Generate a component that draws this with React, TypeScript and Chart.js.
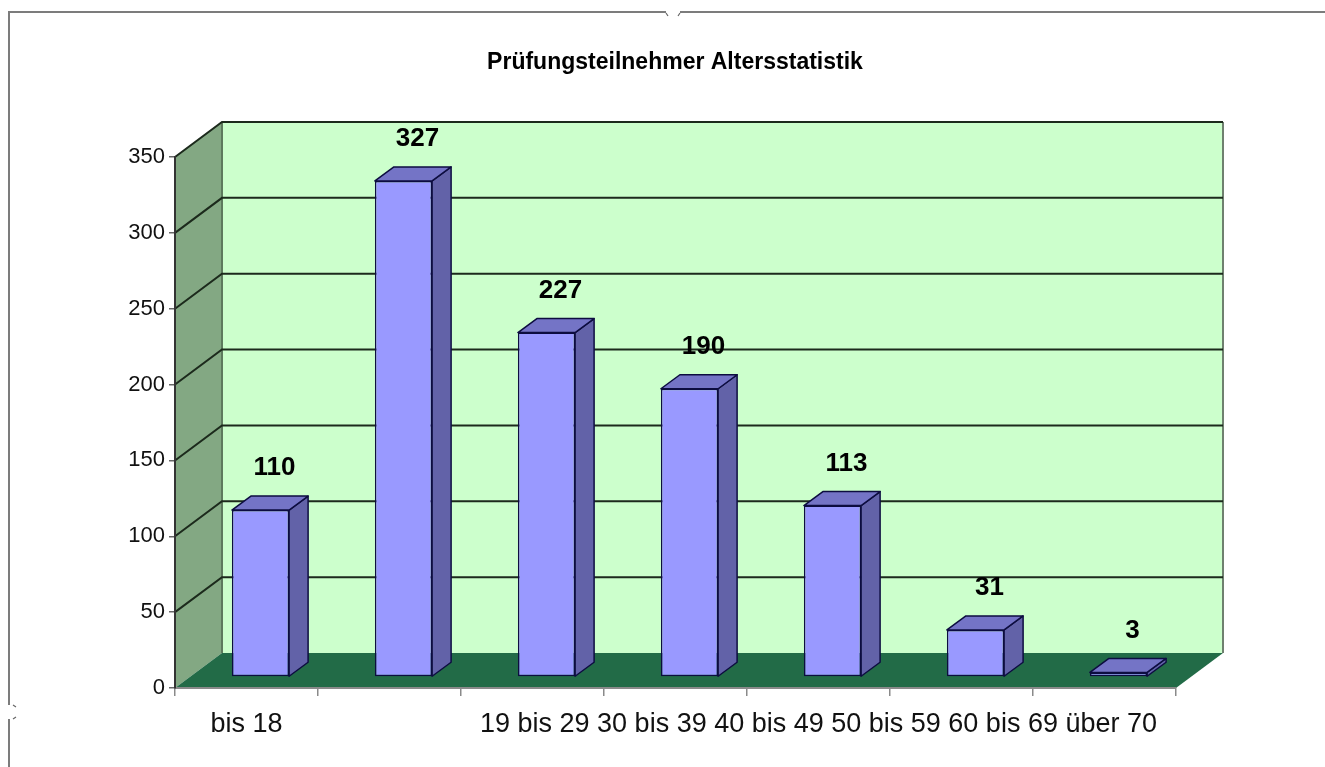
import React, { useEffect, useRef } from "react";
import { Chart, registerables } from "chart.js";

Chart.register(...registerables);

// ---- data ----
const categories = ["bis 18", "19 bis 29", "30 bis 39", "40 bis 49", "50 bis 59", "60 bis 69", "über 70"];
const participants = [110, 327, 227, 190, 113, 31, 3];
const yTicks = [0, 50, 100, 150, 200, 250, 300, 350];
const chartTitle = "Prüfungsteilnehmer Altersstatistik";

// ---- style ----
const FONT = "'Liberation Sans', Arial, sans-serif";
const DEPTH_X = 47;
const DEPTH_Y = 35;
const BAR_SHIFT_X = 14;
const BAR_SHIFT_Y = 11;
const BAR_DEPTH_X = 19;
const BAR_DEPTH_Y = 14;

const threeD = {
  id: "threeD",
  beforeDraw(chart: any) {
    const { ctx, chartArea: a, scales } = chart;
    const y = scales.y;
    const bl = a.left + DEPTH_X;
    const br = a.right + DEPTH_X;
    const bt = a.top - DEPTH_Y;
    const bb = a.bottom - DEPTH_Y;
    ctx.save();
    ctx.fillStyle = "#ffffff";
    ctx.fillRect(0, 0, chart.width, chart.height);

    // back wall
    ctx.fillStyle = "#CCFFCC";
    ctx.fillRect(bl, bt, br - bl, bb - bt);
    // left wall
    ctx.beginPath();
    ctx.moveTo(a.left, a.top);
    ctx.lineTo(bl, bt);
    ctx.lineTo(bl, bb);
    ctx.lineTo(a.left, a.bottom);
    ctx.closePath();
    ctx.fillStyle = "#83A883";
    ctx.fill();

    // back wall right border
    ctx.strokeStyle = "#6f806f";
    ctx.lineWidth = 2;
    ctx.beginPath();
    ctx.moveTo(br, bt);
    ctx.lineTo(br, bb);
    ctx.stroke();
    // back wall left edge
    ctx.strokeStyle = "#5d7a5d";
    ctx.beginPath();
    ctx.moveTo(bl, bt);
    ctx.lineTo(bl, bb);
    ctx.stroke();

    // grid lines (left wall diagonals + back wall)
    ctx.strokeStyle = "#1c2a1c";
    ctx.lineWidth = 2;
    for (const v of yTicks) {
      if (v === 0) continue;
      const p = y.getPixelForValue(v);
      ctx.beginPath();
      ctx.moveTo(a.left, p);
      ctx.lineTo(bl, p - DEPTH_Y);
      ctx.lineTo(br, p - DEPTH_Y);
      ctx.stroke();
    }

    // floor
    ctx.beginPath();
    ctx.moveTo(a.left, a.bottom);
    ctx.lineTo(a.right, a.bottom);
    ctx.lineTo(br, bb);
    ctx.lineTo(bl, bb);
    ctx.closePath();
    ctx.fillStyle = "#226B47";
    ctx.fill();
    ctx.restore();
  },
  beforeDatasetsDraw(chart: any) {
    chart.ctx.save();
    chart.ctx.translate(BAR_SHIFT_X, -BAR_SHIFT_Y);
  },
  afterDatasetsDraw(chart: any) {
    const ctx = chart.ctx;
    ctx.restore();
    const meta = chart.getDatasetMeta(0);
    const values = chart.data.datasets[0].data;
    ctx.save();
    meta.data.forEach((bar: any, i: number) => {
      const { x, y, base, width } = bar.getProps(["x", "y", "base", "width"], true);
      const l = x - width / 2 + BAR_SHIFT_X;
      const r = x + width / 2 + BAR_SHIFT_X;
      const t = y - BAR_SHIFT_Y;
      const b = base - BAR_SHIFT_Y;
      ctx.lineWidth = 1.5;
      ctx.strokeStyle = "#0d0d40";
      ctx.lineJoin = "round";
      // side face
      ctx.beginPath();
      ctx.moveTo(r, t);
      ctx.lineTo(r + BAR_DEPTH_X, t - BAR_DEPTH_Y);
      ctx.lineTo(r + BAR_DEPTH_X, b - BAR_DEPTH_Y);
      ctx.lineTo(r, b);
      ctx.closePath();
      ctx.fillStyle = "#6262A8";
      ctx.fill();
      ctx.stroke();
      // top face
      ctx.beginPath();
      ctx.moveTo(l, t);
      ctx.lineTo(l + BAR_DEPTH_X, t - BAR_DEPTH_Y);
      ctx.lineTo(r + BAR_DEPTH_X, t - BAR_DEPTH_Y);
      ctx.lineTo(r, t);
      ctx.closePath();
      ctx.fillStyle = "#7474C6";
      ctx.fill();
      ctx.stroke();
      // value label
      ctx.fillStyle = "#000000";
      ctx.font = `bold 26px ${FONT}`;
      ctx.textAlign = "center";
      ctx.textBaseline = "middle";
      ctx.fillText(String(values[i]), (l + r) / 2 + 14, t - 42);
    });
    ctx.restore();
  },
  afterDraw(chart: any) {
    const ctx = chart.ctx;
    ctx.save();
    ctx.strokeStyle = "#7c7c7c";
    ctx.lineWidth = 2;
    ctx.beginPath();
    ctx.moveTo(9, chart.height);
    ctx.lineTo(9, 12);
    ctx.lineTo(chart.width, 12);
    ctx.stroke();
    // little selection handles
    ctx.fillStyle = "#ffffff";
    ctx.fillRect(666, 8, 14, 9);
    ctx.fillRect(4, 705, 11, 14);
    ctx.strokeStyle = "#666";
    ctx.lineWidth = 1.2;
    ctx.beginPath();
    ctx.moveTo(666, 13); ctx.lineTo(668, 16);
    ctx.moveTo(680, 13); ctx.lineTo(678, 16);
    ctx.moveTo(13, 705); ctx.lineTo(16, 707);
    ctx.moveTo(13, 719); ctx.lineTo(16, 717);
    ctx.stroke();
    ctx.restore();
  },
};

export default function App() {
  const ref = useRef<HTMLCanvasElement | null>(null);
  useEffect(() => {
    document.body.style.margin = "0";
    document.body.style.overflow = "hidden";
    const canvas = ref.current;
    if (!canvas) return;
    const chart = new Chart(canvas, {
      type: "bar",
      data: {
        labels: categories,
        datasets: [
          {
            label: "Teilnehmer",
            data: participants,
            backgroundColor: "#9999FF",
            borderColor: "#0d0d40",
            borderWidth: 1.5,
            borderSkipped: false,
            barPercentage: 0.4,
            categoryPercentage: 1,
            clip: false as any,
            yAxisID: "y",
          },
        ],
      },
      options: {
        responsive: false,
        maintainAspectRatio: false,
        animation: false,
        events: [],
        layout: { padding: { left: 25, right: 0, top: 0, bottom: 0 } },
        plugins: {
          legend: { display: false },
          tooltip: { enabled: false },
          title: {
            display: true,
            text: chartTitle,
            color: "#000",
            font: { family: FONT, size: 23, weight: "bold" },
            padding: { top: 49, bottom: 80.4 },
          },
        },
        scales: {
          x: {
            grid: { drawOnChartArea: false, drawTicks: true, tickLength: 8, color: "#8a8a8a", lineWidth: 1.5, offset: true },
            border: { display: true, color: "#8a8a8a", width: 2 },
            ticks: {
              autoSkip: false,
              maxRotation: 0,
              minRotation: 0,
              color: "#111",
              padding: 12,
              font: { family: FONT, size: 27 },
              callback: (_v: any, i: number) =>
                i === 0 ? categories[0] : i === 4 ? categories.slice(1).join(" ") : "",
            },
            afterFit: (s: any) => {
              s.height = 79;
            },
          },
          y: {
            position: "left",
            min: 0,
            max: 350,
            ticks: { stepSize: 50, color: "#111", padding: 4, font: { family: FONT, size: 22 } },
            grid: { drawOnChartArea: false, drawTicks: true, tickLength: 6, color: "#666", lineWidth: 1.5 },
            border: { display: true, color: "#333", width: 2 },
            afterFit: (s: any) => {
              s.width = 150;
            },
          },
          yRight: {
            type: "linear",
            position: "right",
            display: true,
            min: 0,
            max: 350,
            grid: { display: false },
            border: { display: false },
            ticks: { display: false },
            afterFit: (s: any) => {
              s.width = 149;
            },
          },
        },
      },
      plugins: [threeD],
    });
    return () => chart.destroy();
  }, []);
  return <canvas ref={ref} width={1325} height={767} style={{ display: "block" }} />;
}
